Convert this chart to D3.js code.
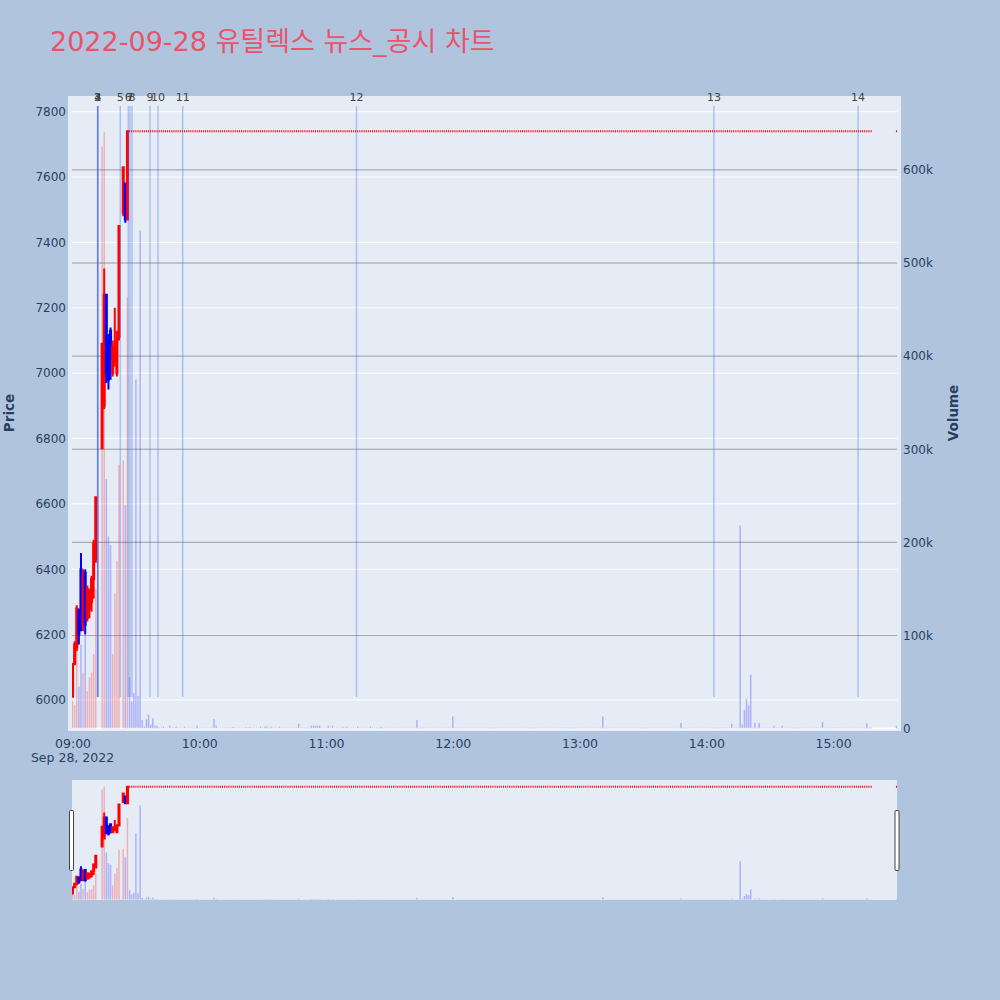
<!DOCTYPE html>
<html><head><meta charset="utf-8">
<script src="https://cdn.jsdelivr.net/npm/d3@7"></script>
<style>body{margin:0;background:#b0c4de;} svg{display:block}</style>
</head><body>
<script>
// ---------------- DATA ----------------
const chartTitle = "2022-09-28 유틸렉스 뉴스_공시 차트";
const candleTimes = ["09:00","09:01","09:02","09:03","09:04","09:05","09:06","09:07","09:08","09:09","09:10","09:11",
                     "09:14","09:15","09:16","09:17","09:18","09:19","09:20","09:21","09:22",
                     "09:24","09:25","09:26"];
const opens  = [6010,6110,6160,6270,6400,6230,6390,6250,6280,6300,6370,6430, 6770,6900,7240,7100,7130,7000,7040,7000,7110, 7490,7580,7470];
const highs  = [6110,6180,6290,6280,6450,6400,6400,6350,6340,6380,6490,6620, 7090,7320,7240,7120,7140,7100,7200,7130,7450, 7630,7580,7740];
const lows   = [6010,6110,6150,6170,6210,6210,6200,6240,6250,6270,6310,6420, 6770,6890,6970,6950,6980,6990,7020,6990,7100, 7480,7460,7470];
const closes = [6110,6170,6280,6200,6230,6380,6230,6340,6330,6370,6480,6620, 7090,7240,7000,6980,7040,7080,7080,7100,7450, 7630,7470,7740];
const candleVolumes = [30,25,120,45,90,60,100,40,55,60,80,150, 625,641,268,206,197,80,145,180,283, 288,240,463]; // thousands

// upper-limit period: one entry per minute from 09:27 to 15:30, thousands of shares, 0 = no trade
const limitPrice = 7740;
const limitStart = "09:27";
const limitVolumes = [
 55,29,38,375,35,535,9,2,10,15,
 4,11,3,3,1,1,2,1,1,3,
 1,1,2,1,1,1,2,1,1,1,
 1,1,3,1,1,1,1,1,1,1,
 10,3,1,1,1,1,1,1,1,1.5,
 1,1,1,1,1,1.5,1,1.5,1,1,
 1,1,2,1,2,2,1,2,1,1,
 1,2,1,1,1,1,1,1,1,1,
 5,1,1,1,1,1,3,3,3,3,
 3,1,1,1,3,1,3,1,1,1,
 1,2,1,2,1,1,1,1,2,1,
 1,1,1,1,2,1,1,1,1,1.5,
 1,1,1,1,1,1,1,1,1,1,
 1,1,1,1,1,1,9,1,1,1,
 1,1,1,1,1,1,1,1,1,1,
 1,1,1,13,1,1,1,1,1,1,
 1,1,1,1,1,1,1,1,1,1,
 1,1,1,1,1,1,1,1,1,1,
 1,1,1,1,1,1,1,1,1,1,
 1,1,1,1,1,1,1,1,1,1,
 1,1,1,1,1,1,1,1,1,1,
 1,1,1,1,1,1,1,1,1,1,
 1,1,1,1,13,1,1,1,1,1,
 1,1,1,1,1,1,1,1,1,1,
 1,1,1,1,1,1,1,1,1,1,
 1,1,1,1,1,1,1,1,1,1,
 1,6,1,1,1,1,1,1,1,1,
 1,1,1,1,1,1,1,1,1,1,
 1,1,1,1,1,5,1,1,1,218,
 4,20,32,25,58,1,6,1,6,1,
 1,1,1,1,1,3,1,1,1,3,
 1,1,1,1,1,1,1,1,1,1,
 1,1,1,1,1,1,1,1,7,1,
 1,1,1,1,1,1,1,1,1,1,
 1,1,1,1,1,1,1,1,1,6,
 1,1,0,0,0,0,0,0,0,0,
 0,0,0,3
];

const newsTimes  = ["09:11:55","09:11:55","09:11:55","09:11:55","09:22:36","09:26:24","09:27:12","09:28:09","09:36:40","09:40:27","09:52:09","11:14:25","14:03:35","15:11:50"];
const newsLabels = ["1","2","3","4","5","6","7","8","9","10","11","12","13","14"];

const priceTicks = [6000,6200,6400,6600,6800,7000,7200,7400,7600,7800];
const volumeTicks = [0,100000,200000,300000,400000,500000,600000];
const volumeTickLabels = ["0","100k","200k","300k","400k","500k","600k"];
const hourTicks = ["09:00","10:00","11:00","12:00","13:00","14:00","15:00"];
const dateLabel = "Sep 28, 2022";

// ---------------- HELPERS ----------------
const MIN = 60000;
const dayBase = Date.UTC(2022, 8, 28);
const parseT = s => { const p = s.split(":").map(Number); return new Date(dayBase + ((p[0]*60 + p[1])*60 + (p[2]||0))*1000); };
const t0 = parseT("09:00");

const candles = candleTimes.map((t,i)=>({t:parseT(t), o:opens[i], h:highs[i], l:lows[i], c:closes[i], v:candleVolumes[i]*1000}));
const limStart = parseT(limitStart);
limitVolumes.forEach((v,i)=>{ if(v>0) candles.push({t:new Date(+limStart + i*MIN), o:limitPrice, h:limitPrice, l:limitPrice, c:limitPrice, v:v*1000}); });

const RED = "#ff0000", BLUE = "#0000ff";
const FONT = "'DejaVu Sans', Verdana, sans-serif";
const TXT = "#2a3f5f";

const svg = d3.select("body").append("svg").attr("width",1000).attr("height",1000);
svg.append("rect").attr("width",1000).attr("height",1000).attr("fill","#b0c4de");

// title
svg.append("text").attr("x",50).attr("y",50.5).text(chartTitle)
  .attr("font-family","'DejaVu Sans','Noto Sans CJK KR',sans-serif").attr("font-size",27).attr("fill","#e9546b");

const xDomain = [new Date(+t0 - 0.25*MIN), new Date(+t0 + 390.25*MIN)];
const plot = {x0:72, x1:897, y0:96, y1:731};
const x = d3.scaleUtc().domain(xDomain).range([plot.x0, plot.x1]);
const yP = d3.scaleLinear().domain([5905, 7848]).range([plot.y1, plot.y0]);
const yV = d3.scaleLinear().domain([-2700, 679400]).range([plot.y1, plot.y0]);
const pxMin = x(new Date(+t0+MIN)) - x(t0);

// background
svg.append("rect").attr("x",68).attr("y",plot.y0).attr("width",901-68).attr("height",plot.y1-plot.y0).attr("fill","#e5ecf6");

// grids
const grid = svg.append("g");
grid.selectAll("line.pg").data(priceTicks).join("line")
  .attr("x1",plot.x0).attr("x2",plot.x1).attr("y1",d=>yP(d)).attr("y2",d=>yP(d))
  .attr("stroke","#ffffff").attr("stroke-width",1);
grid.selectAll("line.vg").data(volumeTicks).join("line")
  .attr("x1",plot.x0).attr("x2",plot.x1).attr("y1",d=>yV(d)).attr("y2",d=>yV(d))
  .attr("stroke",d=>d===0?"#ffffff":"#9a9aa2").attr("stroke-width",d=>d===0?2:1);

function drawMarks(g, xs, yp, yv){
  const bw = pxMin*0.7;
  g.selectAll("rect.vol").data(candles).join("rect").attr("class","vol")
    .attr("x",d=>xs(d.t)-bw/2).attr("width",bw)
    .attr("y",d=>yv(d.v)).attr("height",d=>yv(0)-yv(d.v))
    .attr("fill",d=>d.c>d.o?"rgba(255,0,0,0.25)":"rgba(0,0,255,0.25)");
  const hw = pxMin*0.25;
  g.selectAll("path.cdl").data(candles).join("path").attr("class","cdl")
    .attr("d",d=>{
      const cx = xs(d.t), x0 = cx-hw, x1 = cx+hw;
      const yo = yp(d.o), yc = yp(d.c), yh = yp(d.h), yl = yp(d.l);
      const top = Math.min(yo,yc), bot = Math.max(yo,yc);
      if (d.o===d.c && d.h===d.l) return `M${x0},${yo}H${x1}`;
      return `M${cx},${yh}V${top}M${x0},${top}H${x1}V${bot}H${x0}ZM${cx},${bot}V${yl}`;
    })
    .attr("fill",d=>d.c<d.o?BLUE:RED).attr("stroke",d=>d.c<d.o?BLUE:RED)
    .attr("stroke-width",2).attr("stroke-linejoin","miter");
}

// clip main
svg.append("clipPath").attr("id","clipMain").append("rect")
  .attr("x",plot.x0).attr("y",plot.y0).attr("width",plot.x1-plot.x0).attr("height",plot.y1-plot.y0);
const marks = svg.append("g").attr("clip-path","url(#clipMain)");
drawMarks(marks, x, yP, yV);

// news lines
const news = svg.append("g");
news.selectAll("line").data(newsTimes).join("line")
  .attr("x1",d=>x(parseT(d))).attr("x2",d=>x(parseT(d)))
  .attr("y1",106).attr("y2",697)
  .attr("stroke","rgb(65,105,225)").attr("stroke-opacity",0.35).attr("stroke-width",1.5);
news.selectAll("text").data(newsTimes).join("text")
  .attr("x",d=>x(parseT(d))).attr("y",101).attr("text-anchor","middle")
  .attr("font-family",FONT).attr("font-size",11).attr("fill","#444")
  .text((d,i)=>newsLabels[i]);

// axes
const xAxis = svg.append("g").attr("transform",`translate(0,${plot.y1})`)
  .call(d3.axisBottom(x).tickValues(hourTicks.map(parseT)).tickFormat(d3.utcFormat("%H:%M")).tickSize(0).tickPadding(8));
xAxis.select(".domain").remove();
xAxis.selectAll("text").attr("font-family",FONT).attr("font-size",12.5).attr("fill",TXT);
xAxis.append("text").attr("x",x(t0)).attr("y",31).attr("text-anchor","middle")
  .attr("font-family",FONT).attr("font-size",12.5).attr("fill",TXT).text(dateLabel);

const yAxisL = svg.append("g").attr("transform",`translate(68,0)`)
  .call(d3.axisLeft(yP).tickValues(priceTicks).tickSize(0).tickPadding(2).tickFormat(d3.format("d")));
yAxisL.select(".domain").remove();
yAxisL.selectAll("text").attr("font-family",FONT).attr("font-size",12).attr("fill",TXT);

const yAxisR = svg.append("g").attr("transform",`translate(901,0)`)
  .call(d3.axisRight(yV).tickValues(volumeTicks).tickSize(0).tickPadding(2).tickFormat((d,i)=>volumeTickLabels[i]));
yAxisR.select(".domain").remove();
yAxisR.selectAll("text").attr("font-family",FONT).attr("font-size",12).attr("fill",TXT);

svg.append("text").attr("transform","translate(14,413) rotate(-90)").attr("text-anchor","middle")
  .attr("font-family",FONT).attr("font-weight","bold").attr("font-size",13.5).attr("fill",TXT).text("Price");
svg.append("text").attr("transform","translate(958,413) rotate(-90)").attr("text-anchor","middle")
  .attr("font-family",FONT).attr("font-weight","bold").attr("font-size",13.5).attr("fill",TXT).text("Volume");

// range slider
const sl = {x0:72, x1:897, y0:780, y1:900};
svg.append("rect").attr("x",sl.x0).attr("y",sl.y0).attr("width",sl.x1-sl.x0).attr("height",sl.y1-sl.y0).attr("fill","#e5ecf6");
const xs2 = d3.scaleUtc().domain(xDomain).range([sl.x0, sl.x1]);
const yP2 = d3.scaleLinear().domain(yP.domain()).range([sl.y1, sl.y0]);
const yV2 = d3.scaleLinear().domain(yV.domain()).range([sl.y1, sl.y0]);
svg.append("clipPath").attr("id","clipSl").append("rect")
  .attr("x",sl.x0).attr("y",sl.y0).attr("width",sl.x1-sl.x0).attr("height",sl.y1-sl.y0);
const sg = svg.append("g").attr("clip-path","url(#clipSl)");
drawMarks(sg, xs2, yP2, yV2);
[sl.x0-2.5, sl.x1-2].forEach(hx=>{
  svg.append("rect").attr("x",hx).attr("y",810.5).attr("width",4).attr("height",60)
    .attr("rx",1).attr("fill","#ffffff").attr("stroke","#444").attr("stroke-width",1);
});
</script>
</body></html>
